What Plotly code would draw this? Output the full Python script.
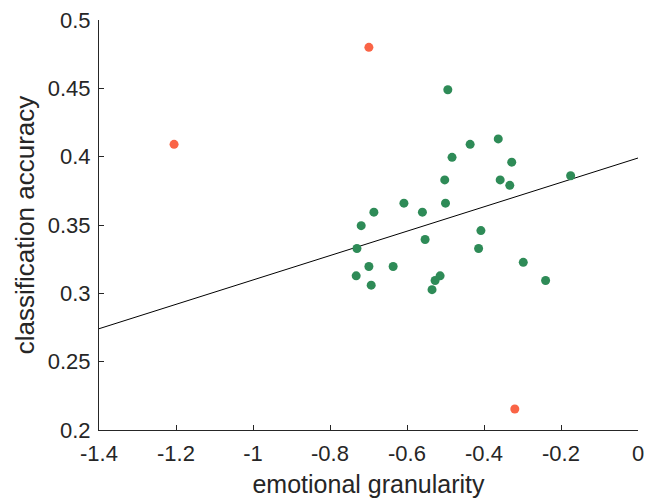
import plotly.graph_objects as go

# Data
green_x = [-0.494, -0.436, -0.363, -0.483, -0.328, -0.502, -0.358, -0.333, -0.175,
           -0.608, -0.500, -0.686, -0.560, -0.719, -0.553, -0.408, -0.730, -0.414,
           -0.699, -0.636, -0.732, -0.298, -0.240, -0.693, -0.514, -0.527, -0.535]
green_y = [0.449, 0.409, 0.413, 0.3995, 0.396, 0.383, 0.383, 0.379, 0.386,
           0.366, 0.366, 0.3594, 0.3594, 0.3495, 0.3394, 0.3459, 0.3328, 0.3328,
           0.3196, 0.3196, 0.3128, 0.3227, 0.3094, 0.306, 0.3128, 0.3094, 0.3027]
outlier_x = [-1.205, -0.699, -0.320]
outlier_y = [0.409, 0.480, 0.2154]
fit_x = [-1.4, 0.0]
fit_y = [0.2741, 0.3990]

x_ticks = [-1.4, -1.2, -1.0, -0.8, -0.6, -0.4, -0.2, 0.0]
x_ticktext = ["-1.4", "-1.2", "-1", "-0.8", "-0.6", "-0.4", "-0.2", "0"]
y_ticks = [0.2, 0.25, 0.3, 0.35, 0.4, 0.45, 0.5]
y_ticktext = ["0.2", "0.25", "0.3", "0.35", "0.4", "0.45", "0.5"]

FAM = "Liberation Sans, Arial, sans-serif"
TXT = "#262626"

fig = go.Figure()
fig.add_trace(go.Scatter(x=fit_x, y=fit_y, mode="lines",
                         line=dict(color="black", width=1), hoverinfo="skip"))
fig.add_trace(go.Scatter(x=green_x, y=green_y, mode="markers",
                         marker=dict(color="#2e8b57", size=9, line=dict(width=0))))
fig.add_trace(go.Scatter(x=outlier_x, y=outlier_y, mode="markers",
                         marker=dict(color="#fa6446", size=9, line=dict(width=0))))

tick_font = dict(family=FAM, size=22, color=TXT)
# the page body has an 8px margin, so the figure is sized/offset to compensate
fig.update_layout(
    width=648, height=494,
    margin=dict(l=91, r=18, t=12, b=72),
    paper_bgcolor="white", plot_bgcolor="white",
    showlegend=False,
    font=tick_font,
)
fig.update_xaxes(range=[-1.4, 0], tickvals=x_ticks, ticktext=x_ticktext,
                 showgrid=False, zeroline=False, showline=True, linecolor=TXT,
                 linewidth=1, ticks="inside", ticklen=5, tickcolor=TXT,
                 tickfont=tick_font, automargin=False, ticklabelstandoff=4,
                 ticklabeloverflow="allow",
                 title=dict(text="emotional granularity",
                            font=dict(size=25, family=FAM, color=TXT), standoff=10))
fig.update_yaxes(range=[0.2, 0.5], tickvals=y_ticks, ticktext=y_ticktext,
                 showgrid=False, zeroline=False, showline=True, linecolor=TXT,
                 linewidth=1, ticks="inside", ticklen=5, tickcolor=TXT,
                 tickfont=tick_font, automargin=False, ticklabelstandoff=3,
                 ticklabeloverflow="allow",
                 title=dict(text="classification accuracy",
                            font=dict(size=26, family=FAM, color=TXT), standoff=5))

fig.write_html("out.html")
